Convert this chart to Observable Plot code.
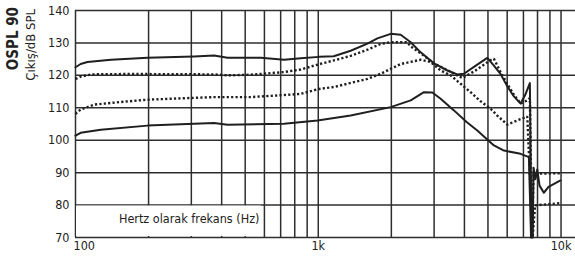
<!DOCTYPE html>
<html><head><meta charset="utf-8">
<script src="https://cdn.jsdelivr.net/npm/d3@7"></script>
<script src="https://cdn.jsdelivr.net/npm/@observablehq/plot@0.6"></script>
<style>
body{margin:0;background:#fff}
#chart svg{display:block}
</style>
</head><body><div id="chart"></div>
<script>
// Axis / grid values
const gridHz = [100,200,300,400,500,600,700,800,900,1000,2000,3000,4000,5000,6000,7000,8000,9000,10000];
const yTicks = [70,80,90,100,110,120,130,140];
const xLabelHz = [100,1000,10000];
const xLabels = ["100","1k","10k"];
const yTitle1 = "OSPL 90";
const yTitle2 = "Çıkış/dB SPL";
const xTitle = "Hertz olarak frekans (Hz)";
const xTitleHz = [294];
const xTitleDb = [75.8];
const labelBoxHz = [101, 585];
const labelBoxDb = [70.3, 79.7];

// Series 1: upper solid curve
const s1Hz = [100,105,112,140,198,308,372,423,580,723,847,1008,1158,1360,1594,1752,1988,2185,2403,2641,2996,3402,3739,3981,4378,4970,5291,5636,6006,6394,6813,7140,7440,7560,7640,7705,7850,7980,8156,8494,8883,9950];
const s1Db = [122.5,123.5,124.1,124.8,125.4,125.8,126.1,125.4,125.4,124.8,125.3,125.7,125.9,127.6,129.8,131.4,132.8,132.5,130.2,127.1,123.7,121.5,120.3,120.5,122.6,125.4,123.0,120.4,116.6,113.5,111.3,114.2,117.6,70,70,91.5,88,91,86,83.8,85.6,87.6];

// Series 2: upper dotted curve
const s2Hz = [100,105,116,154,198,372,423,527,721,847,993,1158,1360,1594,1808,1988,2330,2403,2641,2996,3402,3739,3921,4378,5128,5291,5636,6006,6394,6813,7261,7440,7600,7705,7980,9950];
const s2Db = [118.9,119.6,120.3,120.4,120.4,120.3,120.0,120.2,121.0,121.8,123.3,124.6,126.0,127.9,129.7,130.2,130.2,128.9,126.8,123.7,121.6,120.0,119.2,121.2,124.7,125.1,121.0,117.4,114.0,111.3,112.3,113.0,70,89.6,89.7,89.8];

// Series 3: lower dotted curve
const s3Hz = [100,105,120,154,198,372,527,747,847,1005,1158,1594,1808,1988,2185,2641,2904,3192,3510,3859,4242,4664,5128,5462,6006,6603,7261,7640,7817,9950];
const s3Db = [108.1,109.5,111.0,111.8,112.5,113.3,113.3,114.0,114.3,115.8,116.4,118.9,120.5,122.0,123.5,124.8,124.1,121.5,120.0,117.4,114.8,112.0,109.7,107.6,104.8,106.1,107.3,70,79.9,80.6];

// Series 4: lower solid curve
const s4Hz = [100,105,127,198,372,423,723,993,1360,1988,2403,2725,2951,3192,3621,4084,4519,5291,5816,6813,7372,7525];
const s4Db = [101.4,102.3,103.2,104.5,105.3,104.8,105.1,106.1,107.6,110.2,112.3,114.8,114.7,112.8,109.2,105.6,103.0,98.4,96.8,95.8,94.8,70];

const font = "'DejaVu Sans Condensed','Liberation Sans Narrow',sans-serif";
const ink = "#1f1f1f";
const pts = (hz, db) => d3.zip(hz, db);
const dotted = {stroke: ink, strokeWidth: 2.4, strokeDasharray: "2.2,2.2", strokeLinecap: "butt", strokeLinejoin: "miter"};

const plot = Plot.plot({
  width: 575, height: 259,
  marginLeft: 75, marginRight: 0, marginTop: 10, marginBottom: 22,
  x: {type: "log", domain: [100, 11470], axis: null},
  y: {domain: [70, 140], axis: null},
  style: {fontFamily: font, fontSize: "12px", background: "#fff", color: "#222"},
  marks: [
    Plot.ruleX(gridHz, {stroke: "#2e2e2e", strokeWidth: 1.5, strokeOpacity: 1}),
    Plot.ruleY(yTicks, {stroke: "#2e2e2e", strokeWidth: 1.5, strokeOpacity: 1}),
    Plot.rect([0], {x1: () => labelBoxHz[0], x2: () => labelBoxHz[1], y1: () => labelBoxDb[0], y2: () => labelBoxDb[1], fill: "#fff"}),
    Plot.text([xTitle], {x: () => xTitleHz[0], y: () => xTitleDb[0], text: d => d, fill: "#222", fontSize: 12.5}),
    Plot.text(yTicks, {y: d => d, frameAnchor: "left", dx: -6, textAnchor: "end", text: d => String(d), fill: "#222", fontSize: 12.5}),
    Plot.text(d3.zip(xLabelHz, xLabels).slice(0, 1), {x: d => d[0], text: d => d[1], frameAnchor: "bottom", dy: 12, textAnchor: "start", dx: -2, fill: "#222", fontSize: 12.5}),
    Plot.text(d3.zip(xLabelHz, xLabels).slice(1), {x: d => d[0], text: d => d[1], frameAnchor: "bottom", dy: 12, fill: "#222", fontSize: 12.5}),
    Plot.line(pts(s4Hz, s4Db), {x: d => d[0], y: d => d[1], stroke: ink, strokeWidth: 2}),
    Plot.line(pts(s3Hz, s3Db), {x: d => d[0], y: d => d[1], ...dotted}),
    Plot.line(pts(s2Hz, s2Db), {x: d => d[0], y: d => d[1], ...dotted}),
    Plot.line(pts(s1Hz, s1Db), {x: d => d[0], y: d => d[1], stroke: ink, strokeWidth: 2})
  ]
});

const svg = d3.select(plot);
svg.append("text")
  .attr("transform", "translate(18,7) rotate(-90)")
  .attr("text-anchor", "end")
  .attr("font-family", font).attr("font-size", 15).attr("font-weight", "bold").attr("fill", "#222")
  .text(yTitle1);
svg.append("text")
  .attr("transform", "translate(35,9) rotate(-90)")
  .attr("text-anchor", "end")
  .attr("font-family", font).attr("font-size", 13).attr("fill", "#222")
  .text(yTitle2);

document.getElementById("chart").appendChild(plot);
</script>
</body></html>
